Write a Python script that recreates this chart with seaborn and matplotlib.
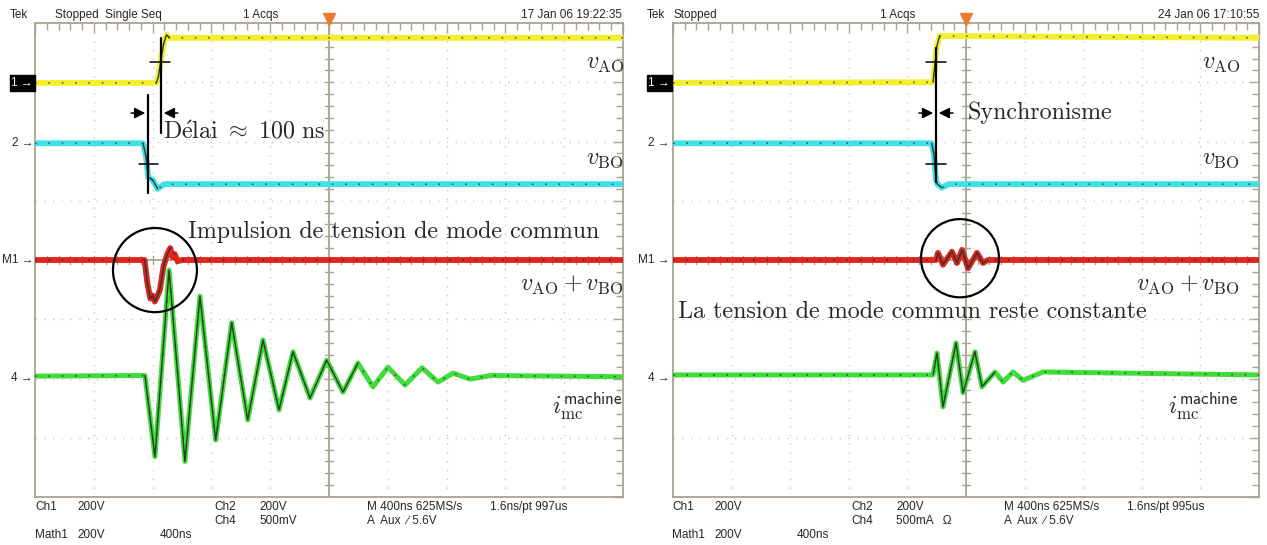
import numpy as np
import pandas as pd
import matplotlib
matplotlib.use("Agg")
import matplotlib.pyplot as plt
from matplotlib.patches import Ellipse
import seaborn as sns

W, H = 1267, 545

# time in ns, amplitude in divisions (scope screen: 400 ns/div, 8 div tall)
# ---- left capture (17 Jan 06) ----
ch1_t = [-2000, -1175, -1160, -1145, -1125, -1105, -1085, 2000]
ch1_v = [2.99, 2.99, 3.1, 3.35, 3.65, 3.8, 3.75, 3.75]
ch2_t = [-2000, -1265, -1245, -1230, -1200, -1165, -1120, 2000]
ch2_v = [1.97, 1.97, 1.75, 1.4, 1.35, 1.2, 1.28, 1.28]
m1_t = [-2000, -1255, -1235, -1216, -1200, -1185, -1169, -1150, -1125, -1100,
        -1080, -1065, -1050, -1030, -1000, 2000]
m1_v = [0, 0, -0.4, -0.65, -0.6, -0.7, -0.62, -0.5, -0.1, 0.1,
        0.2, 0.05, 0.1, -0.02, 0, 0]
ch4_t = [-2000, -1252, -1184, -1088, -980, -878, -771, -662, -553, -449, -340,
         -245, -129, -16, 95, 197, 299, 401, 517, 633, 742, 844, 959, 1100, 2000]
ch4_v = [-1.96, -1.95, -3.32, -0.17, -3.40, -0.61, -3.04, -1.06, -2.70, -1.35, -2.53,
         -1.55, -2.33, -1.69, -2.23, -1.74, -2.14, -1.81, -2.11, -1.82, -2.06, -1.91,
         -2.01, -1.95, -1.97]

# ---- right capture (24 Jan 06) ----
ch1r_t = [-2000, -225, -212, -200, -180, 2000]
ch1r_v = [2.99, 3.0, 3.3, 3.6, 3.78, 3.75]
ch2r_t = [-2000, -234, -220, -205, -195, -165, -120, 2000]
ch2r_v = [1.97, 1.97, 1.8, 1.35, 1.28, 1.22, 1.28, 1.28]
m1r_t = [-2000, -205, -191, -157, -96, -61, -27, 14, 75, 116, 150, 2000]
m1r_v = [0, 0, 0.12, -0.08, 0.14, -0.05, 0.17, -0.14, 0.12, -0.05, 0, 0]
ch4r_t = [-2000, -225, -198, -157, -68, -20, 61, 109, 198, 253, 321, 389, 526, 2000]
ch4r_v = [-1.94, -1.94, -1.57, -2.48, -1.40, -2.24, -1.55, -2.14, -1.89, -2.06,
          -1.89, -2.03, -1.89, -1.94]

YELLOW = "#f2ee2c"
CYAN = "#3fe0e6"
RED = "#e0241e"
GREEN = "#3fdc3a"
GRAT = "#aaa290"

sns.set_style("white")
plt.rcParams["mathtext.fontset"] = "cm"
SCOPE_FONT = ["Liberation Sans", "DejaVu Sans"]
SERIF = ["cmr10", "DejaVu Serif"]

fig = plt.figure(figsize=(W / 100, H / 100), dpi=100)


def px_axes(x0, x1, y0, y1):
    return fig.add_axes([x0 / W, 1 - y1 / H, (x1 - x0) / W, (y1 - y0) / H])


def ftext(x, y, s, **kw):
    kw.setdefault("va", "center")
    return fig.text(x / W, 1 - y / H, s, **kw)


def graticule(ax):
    ax.set_xlim(-2000, 2000)
    ax.set_ylim(-4, 4)
    ax.set_xticks(np.arange(-2000, 2001, 400))
    ax.set_xticks(np.arange(-2000, 2001, 80), minor=True)
    ax.set_yticks(np.arange(-4, 5, 1))
    ax.set_yticks(np.arange(-4, 4.01, 0.2), minor=True)
    ax.tick_params(which="both", direction="in", top=True, right=True,
                   labelbottom=False, labelleft=False, color=GRAT, width=1)
    ax.tick_params(which="major", length=7)
    ax.tick_params(which="minor", length=5)
    for s in ax.spines.values():
        s.set_color(GRAT)
        s.set_linewidth(1.3)
    for t in np.arange(-1600, 1601, 400):
        if t != 0:
            ax.axvline(t, color="#c8c8c8", lw=1, ls=(0, (1, 5.3)), zorder=1)
    for v in range(-3, 4):
        if v != 0:
            ax.axhline(v, color="#c8c8c8", lw=1, ls=(0, (1, 5.3)), zorder=1)
    ax.axvline(0, color=GRAT, lw=1.3, zorder=1)
    ax.axhline(0, color=GRAT, lw=1.3, zorder=1)
    for t in np.arange(-2000, 2001, 80):
        ax.plot([t, t], [-0.07, 0.07], color=GRAT, lw=1, zorder=1)
    for v in np.arange(-4, 4.01, 0.2):
        ax.plot([-27, 27], [v, v], color=GRAT, lw=1, zorder=1)
    ax.plot(0, 4.07, marker="v", color="#f07a2a", ms=8, clip_on=False, zorder=5)


def trace(ax, t, v, color, transient=None, width=4.2):
    df = pd.DataFrame({"t": t, "v": v})
    sns.lineplot(data=df, x="t", y="v", ax=ax, color=color, lw=width,
                 estimator=None, sort=False, zorder=3)
    ax.plot(df["t"], df["v"], color="#2a2a2a", lw=1.2, ls=(0, (1, 7)),
            alpha=0.7, zorder=4)
    if transient is not None:
        seg = df[(df["t"] >= transient[0]) & (df["t"] <= transient[1])]
        ax.plot(seg["t"], seg["v"], color="#2b3a2b", lw=1.0, zorder=4)
    ax.set_xlabel("")
    ax.set_ylabel("")


axL = px_axes(35, 623, 23, 497)
axR = px_axes(673, 1259, 23, 497)
for ax in (axL, axR):
    graticule(ax)

trace(axL, ch1_t, ch1_v, YELLOW, (-1175, -1085))
trace(axL, ch2_t, ch2_v, CYAN, (-1265, -1165))
trace(axL, m1_t, m1_v, RED, (-1255, -1080))
trace(axL, ch4_t, ch4_v, GREEN, (-1252, 200), width=3.6)

trace(axR, ch1r_t, ch1r_v, YELLOW, (-225, -180))
trace(axR, ch2r_t, ch2r_v, CYAN, (-234, -165))
trace(axR, m1r_t, m1r_v, RED, (-205, 150))
trace(axR, ch4r_t, ch4r_v, GREEN, (-225, 200), width=3.6)

# ---- cursor annotations, left ----
k = dict(color="black", lw=1.6, zorder=6)
axL.plot([-1143, -1143], [3.75, 2.14], **k)
axL.plot([-1218, -1082], [3.34, 3.34], color="black", lw=1.1, zorder=6)
axL.plot([-1231, -1231], [2.78, 1.13], **k)
axL.plot([-1293, -1163], [1.62, 1.62], color="black", lw=1.1, zorder=6)
ap = dict(arrowstyle="-|>", color="black", lw=1.1, mutation_scale=16)
axL.annotate("", xy=(-1231, 2.48), xytext=(-1365, 2.48), arrowprops=ap, zorder=6)
axL.annotate("", xy=(-1143, 2.48), xytext=(-1010, 2.48), arrowprops=ap, zorder=6)
axL.add_patch(Ellipse((-1184, -0.17), 571, 1.42, fill=False, ec="black", lw=1.6, zorder=6))

# ---- cursor annotations, right ----
axR.plot([-205, -205], [3.58, 1.32], **k)
axR.plot([-273, -137], [3.34, 3.34], color="black", lw=1.1, zorder=6)
axR.plot([-273, -137], [1.62, 1.62], color="black", lw=1.1, zorder=6)
axR.annotate("", xy=(-205, 2.48), xytext=(-340, 2.48), arrowprops=ap, zorder=6)
axR.annotate("", xy=(-205, 2.48), xytext=(-70, 2.48), arrowprops=ap, zorder=6)
axR.add_patch(Ellipse((-41, 0.03), 532, 1.32, fill=False, ec="black", lw=1.6, zorder=6))

# ---- serif labels ----
FS = 17.3
ftext(163, 131, r"$\mathrm{D\acute{e}lai}\ \approx\ \mathrm{100\ ns}$", fontsize=FS)
ftext(188, 232, "Impulsion de tension de mode commun", fontsize=FS, family=SERIF)
ftext(968, 113, "Synchronisme", fontsize=FS, family=SERIF)
ftext(678, 312, "La tension de mode commun reste constante", fontsize=FS, family=SERIF)

for xr in (624, 1240):
    ftext(xr, 62, r"$v_{\mathrm{AO}}$", fontsize=FS, ha="right")
    ftext(xr, 158, r"$v_{\mathrm{BO}}$", fontsize=FS, ha="right")
    ftext(xr, 284, r"$v_{\mathrm{AO}}+v_{\mathrm{BO}}$", fontsize=FS, ha="right")
    ftext(xr - 2, 406, r"$i_{\mathrm{mc}}^{\mathsf{machine}}$", fontsize=FS, ha="right")

# ---- scope readouts ----
SF = 8.5
for dx, stamp, status, ch4, rec in ((0, "17 Jan 06 19:22:35", "Stopped  Single Seq", "500mV", "997us"),
                                    (637, "24 Jan 06 17:10:55", "Stopped", "500mA   \u03a9", "995us")):
    ftext(10 + dx, 15, "Tek", fontsize=SF, family=SCOPE_FONT)
    ftext(55 + dx if dx == 0 else 673, 15, status, fontsize=SF, family=SCOPE_FONT)
    ftext(243 + dx, 15, "1 Acqs", fontsize=SF, family=SCOPE_FONT)
    ftext(622 + dx, 15, stamp, fontsize=SF, family=SCOPE_FONT, ha="right")
    ftext(35 + dx, 507, "Ch1", fontsize=SF, family=SCOPE_FONT)
    ftext(77 + dx, 507, "200V", fontsize=SF, family=SCOPE_FONT)
    ftext(214 + dx, 507, "Ch2", fontsize=SF, family=SCOPE_FONT)
    ftext(259 + dx, 507, "200V", fontsize=SF, family=SCOPE_FONT)
    ftext(214 + dx, 521, "Ch4", fontsize=SF, family=SCOPE_FONT)
    ftext(259 + dx, 521, ch4, fontsize=SF, family=SCOPE_FONT)
    ftext(367 + dx, 507, "M 400ns 625MS/s", fontsize=SF, family=SCOPE_FONT)
    ftext(490 + dx, 507, "1.6ns/pt " + rec, fontsize=SF, family=SCOPE_FONT)
    ftext(367 + dx, 521, "A  Aux  \u2215 5.6V", fontsize=SF, family=SCOPE_FONT)
    ftext(35 + dx, 535, "Math1", fontsize=SF, family=SCOPE_FONT)
    ftext(77 + dx, 535, "200V", fontsize=SF, family=SCOPE_FONT)
    ftext(160 + dx, 535, "400ns", fontsize=SF, family=SCOPE_FONT)
    xm = 33 + dx
    ftext(xm, 83, "1 \u2192", fontsize=SF, family=SCOPE_FONT, ha="right", color="white",
          bbox=dict(boxstyle="square,pad=0.15", fc="black", ec="black"))
    ftext(xm, 143, "2 \u2192", fontsize=SF, family=SCOPE_FONT, ha="right")
    ftext(xm, 260, "M1 \u2192", fontsize=SF, family=SCOPE_FONT, ha="right")
    ftext(xm, 378, "4 \u2192", fontsize=SF, family=SCOPE_FONT, ha="right")

fig.savefig("out.png", dpi=100)
